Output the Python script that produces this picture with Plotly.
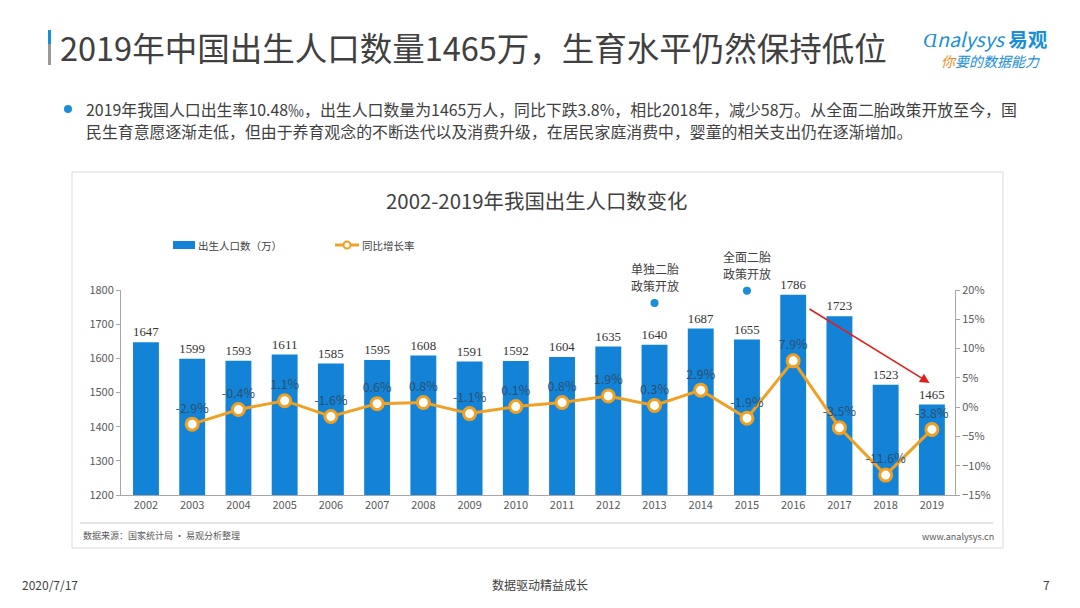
import plotly.graph_objects as go

years = list(range(2002, 2020))
births = [1647, 1599, 1593, 1611, 1585, 1595, 1608, 1591, 1592, 1604,
          1635, 1640, 1687, 1655, 1786, 1723, 1523, 1465]
growth_years = list(range(2003, 2020))
growth = [-2.9, -0.4, 1.1, -1.6, 0.6, 0.8, -1.1, 0.1, 0.8,
          1.9, 0.3, 2.9, -1.9, 7.9, -3.5, -11.6, -3.8]
growth_labels = [f"{g}%" for g in growth]
policy_years = [2013, 2015]
policy_levels = [1762, 1798]
policy_line1 = ["单独二胎", "全面二胎"]
policy_line2 = ["政策开放", "政策开放"]

W, H = 1080, 608
FONT = "Noto Sans CJK SC"
DARK = "#404040"
BLUE = "#1283d6"
ORANGE = "#f0a023"

def px(x):
    return x / W

def py(y):
    return 1 - y / H

fig = go.Figure()

fig.add_trace(go.Bar(
    x=years, y=births, name="出生人口数（万）",
    marker=dict(color=BLUE, line=dict(width=0)),
    width=0.56,
    text=[str(b) for b in births], textposition="outside",
    textfont=dict(family="Liberation Serif", size=13.5, color="#333333"),
    cliponaxis=False, showlegend=False,
))

fig.add_trace(go.Scatter(
    x=growth_years, y=growth, name="同比增长率", yaxis="y2",
    mode="lines+markers+text",
    line=dict(color=ORANGE, width=3),
    marker=dict(size=12, color="white", line=dict(color=ORANGE, width=3)),
    text=growth_labels, textposition="top center",
    textfont=dict(family=FONT, size=12.5, color="#2f4f6f"),
    cliponaxis=False, showlegend=False,
))

# policy markers and labels
fig.add_trace(go.Scatter(
    x=policy_years, y=policy_levels, mode="markers",
    marker=dict(size=8, color="#1a8fd8"),
    showlegend=False, cliponaxis=False, hoverinfo="skip",
))
for yr, lv, l1, l2 in zip(policy_years, policy_levels, policy_line1, policy_line2):
    fig.add_annotation(x=yr, y=lv, xref="x", yref="y", text=l2, showarrow=False,
                       yshift=17, yanchor="middle", borderpad=0,
                       font=dict(size=12, color=DARK, family=FONT))
    fig.add_annotation(x=yr, y=lv, xref="x", yref="y", text=l1, showarrow=False,
                       yshift=34, yanchor="middle", borderpad=0,
                       font=dict(size=12, color=DARK, family=FONT))

# red arrow 2016 -> 2019
fig.add_annotation(
    x=2018.95, y=1528, ax=2016.32, ay=1747,
    xref="x", yref="y", axref="x", ayref="y",
    showarrow=True, arrowhead=2, arrowsize=1.2, arrowwidth=1.6,
    arrowcolor="#e0201c", text="",
)

x0d, x1d = px(121), px(955)
y0d, y1d = py(495), py(290)

fig.update_layout(
    width=W, height=H,
    margin=dict(l=0, r=0, t=0, b=0, autoexpand=False),
    paper_bgcolor="white", plot_bgcolor="white",
    font=dict(family=FONT, color=DARK),
    showlegend=False,
    xaxis=dict(
        domain=[x0d, x1d], range=[2001.46, 2019.5], automargin=False,
        tickmode="array", tickvals=years, ticktext=[str(y) for y in years],
        showline=True, linecolor="#a6a6a6", linewidth=1,
        ticks="", showgrid=False, zeroline=False,
        tickfont=dict(family=FONT, size=11, color="#595959"),
    ),
    yaxis=dict(
        domain=[y0d, y1d], range=[1200, 1800], dtick=100, automargin=False,
        showline=True, linecolor="#a6a6a6", linewidth=1,
        ticks="outside", ticklen=4, tickcolor="#a6a6a6",
        showgrid=False, zeroline=False,
        tickfont=dict(family=FONT, size=11, color="#595959"),
    ),
    yaxis2=dict(
        overlaying="y", side="right", range=[-15, 20], dtick=5, automargin=False,
        ticksuffix="%", showline=True, linecolor="#a6a6a6", linewidth=1,
        ticks="outside", ticklen=4, tickcolor="#a6a6a6",
        showgrid=False, zeroline=False,
        tickfont=dict(family=FONT, size=11, color="#595959"),
    ),
)

shapes = [
    # chart frame
    dict(type="rect", xref="paper", yref="paper",
         x0=px(72), x1=px(1003), y0=py(548), y1=py(172),
         line=dict(color="#d9d9d9", width=1), layer="below"),
    # separator line
    dict(type="line", xref="paper", yref="paper",
         x0=px(80), x1=px(993), y0=py(523), y1=py(523),
         line=dict(color="#cccccc", width=1)),
    # header accent bar
    dict(type="rect", xref="paper", yref="paper",
         x0=px(48), x1=px(51), y0=py(44), y1=py(30),
         line=dict(width=0), fillcolor="#1a8fd8"),
    dict(type="rect", xref="paper", yref="paper",
         x0=px(48), x1=px(51), y0=py(65), y1=py(44),
         line=dict(width=0), fillcolor="#9a9a9a"),
    # bullet
    dict(type="circle", xref="paper", yref="paper",
         x0=px(64), x1=px(72), y0=py(113), y1=py(105),
         line=dict(width=0), fillcolor="#1a8fd8"),
    # legend: bar swatch
    dict(type="rect", xref="paper", yref="paper",
         x0=px(173), x1=px(195), y0=py(249), y1=py(241),
         line=dict(width=0), fillcolor=BLUE),
    # legend: line swatch
    dict(type="line", xref="paper", yref="paper",
         x0=px(335), x1=px(359), y0=py(245), y1=py(245),
         line=dict(color=ORANGE, width=3)),
    dict(type="circle", xref="paper", yref="paper",
         x0=px(343.5), x1=px(350.5), y0=py(248.5), y1=py(241.5),
         line=dict(color=ORANGE, width=2), fillcolor="white"),
]
fig.update_layout(shapes=shapes)

def txt(x, y, s, size, color=DARK, xanchor="left", family=FONT, **kw):
    fig.add_annotation(x=px(x), y=py(y), xref="paper", yref="paper",
                       text=s, showarrow=False, xanchor=xanchor, yanchor="middle",
                       font=dict(family=family, size=size, color=color), **kw)

txt(58, 46, "2019年中国出生人口数量1465万，生育水平仍然保持低位", 32.5, "#404040")
txt(84, 109, "2019年我国人口出生率10.48‰，出生人口数量为1465万人，同比下跌3.8%，相比2018年，减少58万。从全面二胎政策开放至今，国", 15.9)
txt(84, 132, "民生育意愿逐渐走低，但由于养育观念的不断迭代以及消费升级，在居民家庭消费中，婴童的相关支出仍在逐渐增加。", 15.9)
txt(537, 200, "2002-2019年我国出生人口数变化", 20.4, "#404040", xanchor="center")
txt(196, 245, "出生人口数（万）", 10.5, DARK)
txt(360, 245, "同比增长率", 10.5, DARK)
txt(81, 535, "数据来源：国家统计局 · 易观分析整理", 9, "#595959")
txt(996, 536, "www.analysys.cn", 9, "#595959", xanchor="right")
txt(20, 584, "2020/7/17", 12, DARK)
txt(540, 584, "数据驱动精益成长", 12, DARK, xanchor="center")
txt(1052, 584, "7", 12, DARK, xanchor="right")
# logo
txt(922, 38, "<i>Ɑnalysys</i> <b>易观</b>", 19.5, "#1a8fd8", borderpad=0)
txt(940, 61, "<i><span style='color:#f08c1e'>你</span>要的数据能力</i>", 14, "#1a8fd8", borderpad=0)

fig.write_html("out.html", config={"displayModeBar": False},
               post_script="document.body.style.margin='0';document.body.style.overflow='hidden';")
